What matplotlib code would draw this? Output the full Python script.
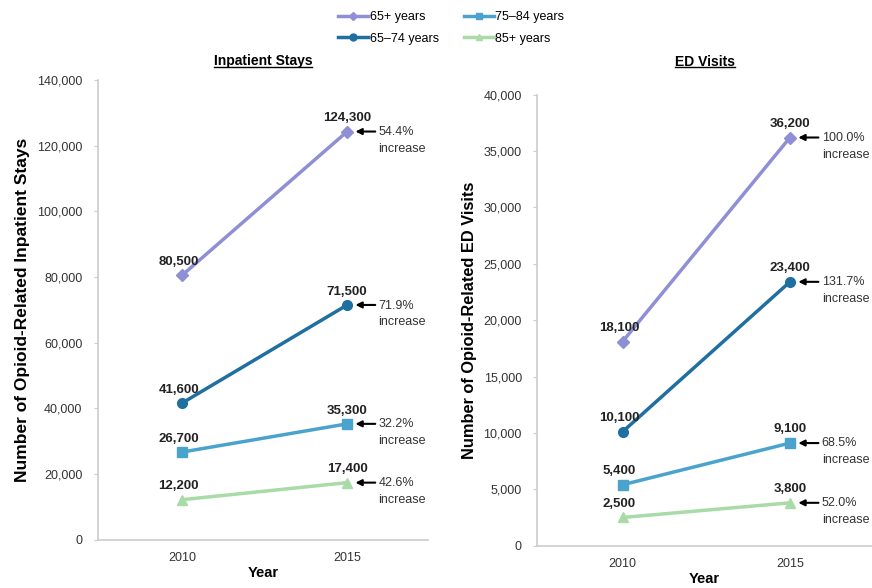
import numpy as np
import matplotlib.pyplot as plt
from matplotlib.lines import Line2D

plt.rcParams['font.family'] = ['Liberation Sans', 'DejaVu Sans']

# Datos
years = ['2010', '2015']
groups = ['65+ years', '65\u201374 years', '75\u201384 years', '85+ years']
colors = ['#8f8fd6', '#1f6fa0', '#4aa3cc', '#a8dba8']
markers = ['D', 'o', 's', '^']
msizes = [6, 7, 7, 7]

inpatient = {
    '65+ years': [80500, 124300],
    '65\u201374 years': [41600, 71500],
    '75\u201384 years': [26700, 35300],
    '85+ years': [12200, 17400],
}
inpatient_pct = ['54.4%', '71.9%', '32.2%', '42.6%']

ed = {
    '65+ years': [18100, 36200],
    '65\u201374 years': [10100, 23400],
    '75\u201384 years': [5400, 9100],
    '85+ years': [2500, 3800],
}
ed_pct = ['100.0%', '131.7%', '68.5%', '52.0%']

fig = plt.figure(figsize=(8.72, 5.88), dpi=100)
ax1 = fig.add_axes([0.112, 0.082, 0.379, 0.782])
ax2 = fig.add_axes([0.616, 0.072, 0.384, 0.767])


def panel(ax, data, pcts, ymax, step, title, ylabel, off, tpad, ylsize):
    x = np.arange(len(years))
    for g, c, m, ms, p in zip(groups, colors, markers, msizes, pcts):
        v = data[g]
        ax.plot(x, v, color=c, marker=m, markersize=ms, lw=2.5, clip_on=False)
        for xi, vi in zip(x, v):
            ax.text(xi - 0.02 * (1 - xi), vi + off, f'{vi:,}', ha='center', va='bottom',
                    fontsize=9.5, fontweight='bold', color='#222222')
        ax.annotate('', xy=(1.05, v[1]), xytext=(1.17, v[1]),
                    arrowprops=dict(arrowstyle='-|>', color='black', lw=1.5,
                                    mutation_scale=9, shrinkA=0, shrinkB=0),
                    annotation_clip=False)
        ax.text(1.19, v[1] + off * 0.75, p + '\nincrease', ha='left', va='top', fontsize=9,
                color='#333333', linespacing=1.55, clip_on=False)
    ax.set_xlim(-0.51, 1.49)
    ax.set_ylim(0, ymax)
    ax.set_yticks(np.arange(0, ymax + 1, step))
    ax.yaxis.set_major_formatter(plt.FuncFormatter(lambda v, p: f'{int(v):,}'))
    ax.set_xticks(x)
    ax.set_xticklabels(years)
    ax.tick_params(axis='x', length=0, pad=9, labelsize=9, labelcolor='#333333')
    ax.tick_params(axis='y', length=3, color='#cccccc', labelsize=9, labelcolor='#333333', pad=8)
    for s in ['top', 'right']:
        ax.spines[s].set_visible(False)
    for s in ['left', 'bottom']:
        ax.spines[s].set_color('#cccccc')
        ax.spines[s].set_linewidth(1.2)
    ax.set_title(title, fontsize=10, fontweight='bold', pad=tpad)
    ax.set_ylabel(ylabel, fontsize=ylsize, fontweight='bold', labelpad=5)
    ax.set_xlabel('Year', fontsize=10.5, fontweight='bold', labelpad=1)


panel(ax1, inpatient, inpatient_pct, 140000, 20000, 'Inpatient Stays',
      'Number of Opioid-Related Inpatient Stays', 2200, 11, 12.5)
panel(ax2, ed, ed_pct, 40000, 5000, 'ED Visits',
      'Number of Opioid-Related ED Visits', 700, 21, 11.8)

# Leyenda
handles = [Line2D([], [], color=c, marker=m, markersize=ms - 2, lw=2.5)
           for c, m, ms in zip(colors, markers, msizes)]
fig.legend(handles, groups, loc='upper left', bbox_to_anchor=(0.375, 1.0), ncol=2,
           frameon=False, fontsize=9, handlelength=2.4, columnspacing=2.0,
           labelspacing=0.75, handletextpad=0.1)

# subrayado de los títulos
fig.canvas.draw()
r = fig.canvas.get_renderer()
for ax in [ax1, ax2]:
    bb = ax.title.get_window_extent(r).transformed(fig.transFigure.inverted())
    fig.add_artist(Line2D([bb.x0, bb.x1], [bb.y0 + 0.002, bb.y0 + 0.002],
                          color='black', lw=1, transform=fig.transFigure))

plt.savefig('out.png', dpi=100)
